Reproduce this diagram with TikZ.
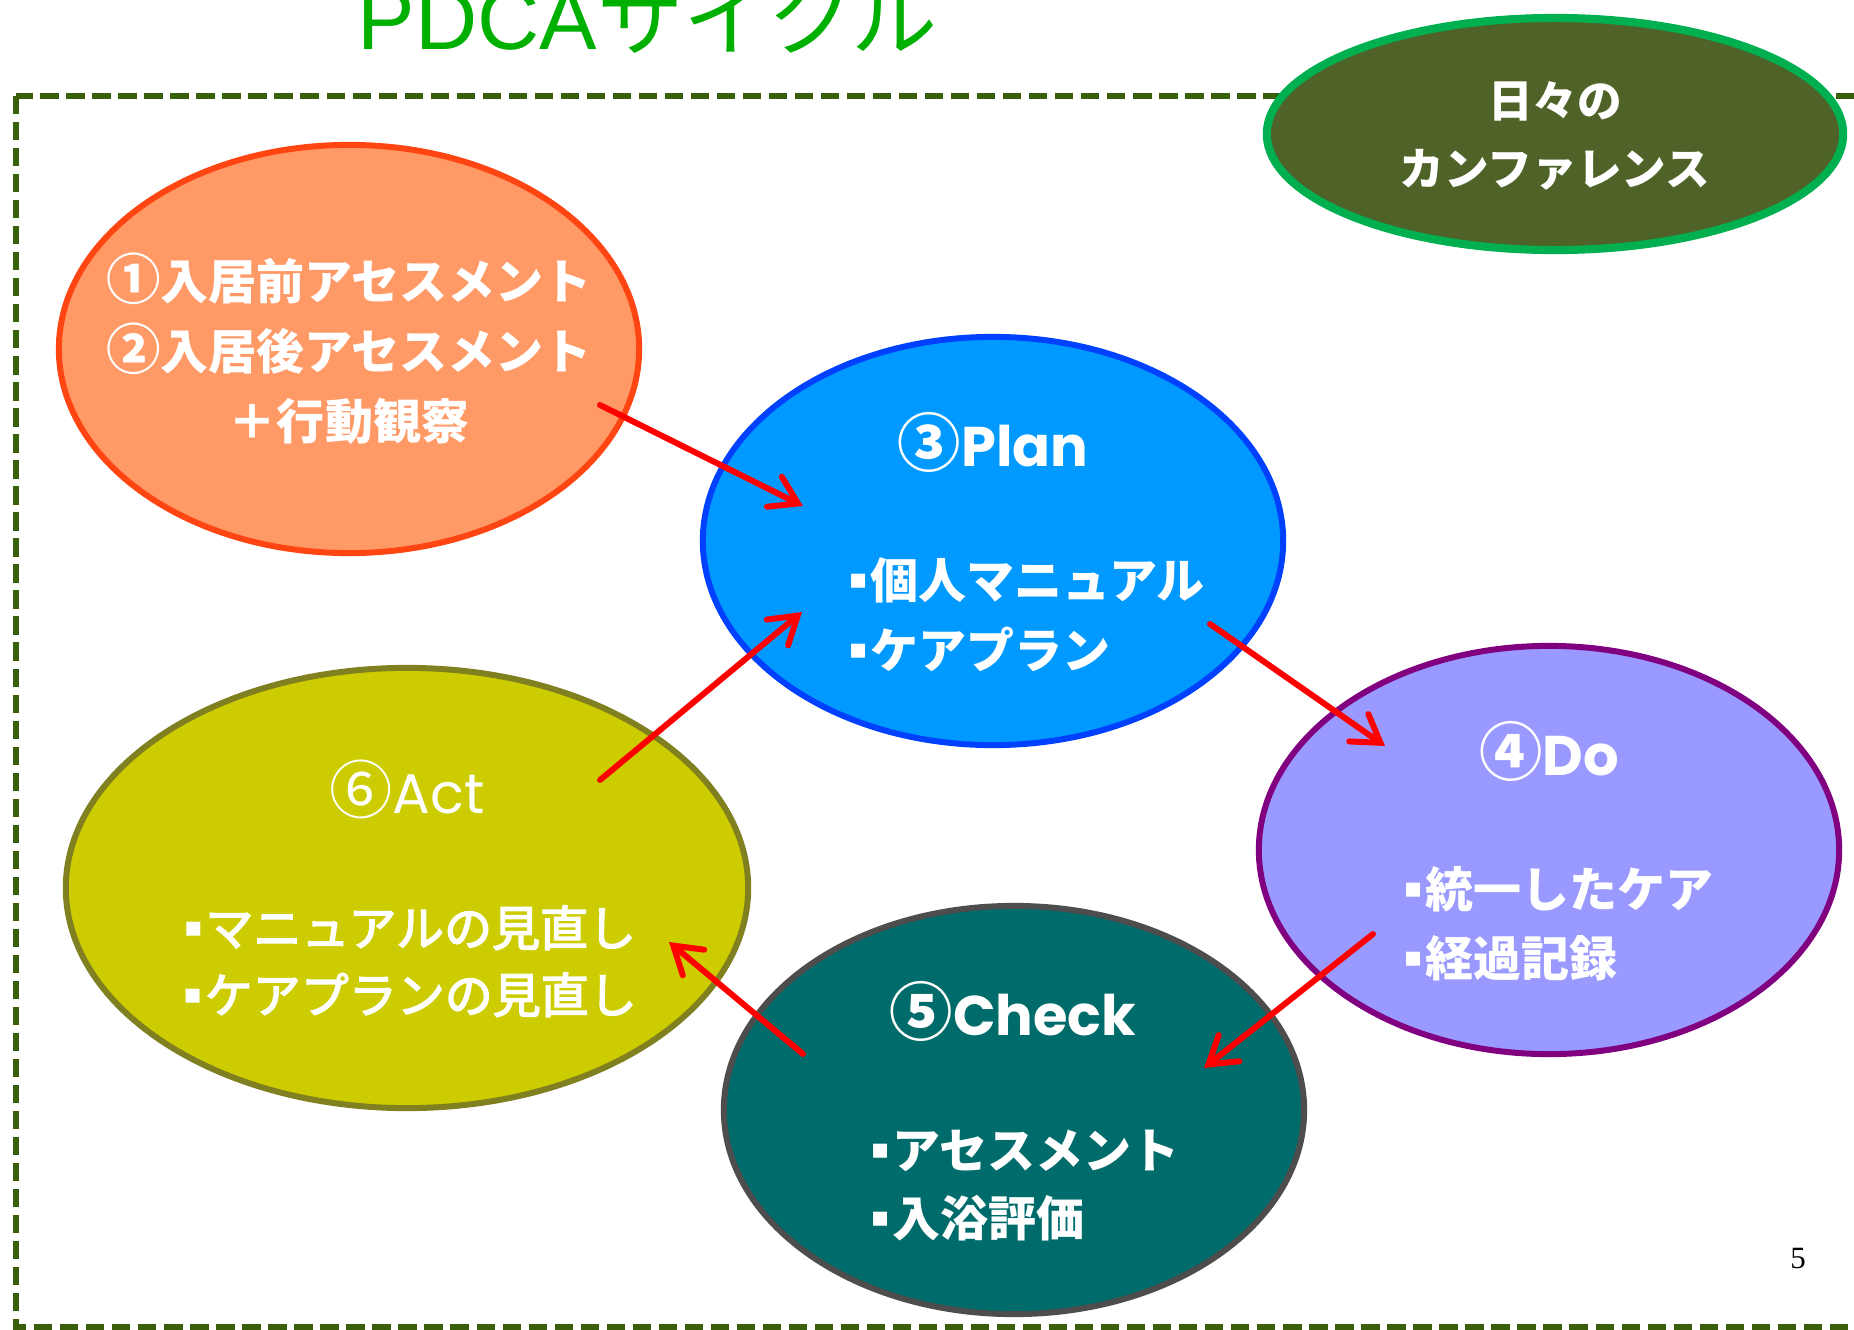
\documentclass[tikz,border=0pt]{standalone}
\usepackage{fontspec}
\usetikzlibrary{shapes.geometric,arrows.meta}
\setmainfont{Liberation Sans}
\newfontfamily\jp{Noto Sans CJK JP}
\newfontfamily\jpmed{Noto Sans CJK JP}[FakeBold=3]
\newfontfamily\pop{Poppins}
\newfontfamily\lat{Liberation Sans}
\newfontfamily\serifn{Liberation Serif}
\newfontfamily\dejavu{DejaVu Sans}
\definecolor{orFill}{HTML}{FF9966}
\definecolor{orLine}{HTML}{FF4512}
\definecolor{plFill}{HTML}{0099FF}
\definecolor{plLine}{HTML}{0040FF}
\definecolor{doFill}{HTML}{9999FF}
\definecolor{doLine}{HTML}{800080}
\definecolor{ckFill}{HTML}{006B6B}
\definecolor{ckLine}{HTML}{4D4D4D}
\definecolor{acFill}{HTML}{CCCC00}
\definecolor{acLine}{HTML}{808020}
\definecolor{dgFill}{HTML}{4F6228}
\definecolor{dgLine}{HTML}{00B050}
\definecolor{frameCol}{HTML}{3A5F0B}
\definecolor{titleCol}{HTML}{00B000}
\newcommand\bul{\makebox[0.45em][l]{\raisebox{2.7pt}{\dejavu\fontsize{8pt}{8pt}\selectfont ▪}}}
\newcommand\bignum[2]{{\fontsize{#1}{#1}\selectfont #2}}
\begin{document}
\begin{tikzpicture}[x=0.01cm, y=-0.01cm,
  ell/.style={ellipse, inner sep=0pt, line width=1.7pt, minimum width=5.80cm, minimum height=4.08cm},
  body/.style={anchor=base, inner sep=0pt, text=white, font=\jp\bfseries\fontsize{13.65pt}{16pt}\selectfont},
  bodyl/.style={body, anchor=base west},
  bodyr/.style={anchor=base, inner sep=0pt, text=white, font=\jpmed\fontsize{13.65pt}{16pt}\selectfont},
  head/.style={anchor=base, inner sep=0pt, text=white, font=\fontsize{15.9pt}{18pt}\selectfont},
  conftext/.style={anchor=base, inner sep=0pt, text=white, font=\jp\bfseries\fontsize{12.7pt}{15pt}\selectfont},
  frame/.style={draw=frameCol, line width=1.7pt, dash pattern=on 5.2pt off 2.2pt},
  arr/.style={draw=red, line width=1.7pt, line cap=round, -{Straight Barb[length=7.5pt, width=9.5pt, line cap=round]}}
]
\useasboundingbox (0,0) rectangle (1854,1330);
\clip (0,0) rectangle (1854,1330);
\fill[white] (0,0) rectangle (1854,1330);
\draw[frame] (16,96) rectangle (1890,1327);

% title
\node[anchor=base west, inner sep=0pt, text=titleCol, font=\fontsize{24.5pt}{28pt}\selectfont] (title) at (357,49) {{\lat PDCA}{\jp サイクル}};

% ellipses
\node[ell, fill=orFill, draw=orLine] (assess) at (349,349) {};
\node[ell, fill=plFill, draw=plLine] (plan) at (993,541) {};
\node[ell, fill=doFill, draw=doLine] (do) at (1549,850) {};
\node[ell, fill=ckFill, draw=ckLine] (check) at (1014,1110) {};
\node[ell, fill=acFill, draw=acLine, minimum width=6.82cm, minimum height=4.40cm] (act) at (407,888) {};
\node[ell, fill=dgFill, draw=dgLine, line width=2.3pt, minimum width=5.76cm, minimum height=2.32cm] (conf) at (1555,134) {};

% conference text
\node[conftext] (conf1) at (1555,117) {日々の};
\node[conftext] (conf2) at (1555,185) {カンファレンス};

% assessment text
\node[body] (as1) at (349,299) {\bignum{15.5pt}{①}入居前アセスメント};
\node[body] (as2) at (349,369) {\bignum{15.5pt}{②}入居後アセスメント};
\node[body] (as3) at (349,439) {＋行動観察};

% plan
\node[head] (planh) at (993,466) {{\jp\bfseries\bignum{18pt}{③}}{\pop\bfseries Plan}};
\node[bodyl] (plan1) at (848,598) {\bul 個人マニュアル};
\node[bodyl] (plan2) at (848,668) {\bul ケアプラン};

% do
\node[head] (doh) at (1549,775) {{\jp\bfseries\bignum{18pt}{④}}{\pop\bfseries Do}};
\node[bodyl] (do1) at (1403,907) {\bul 統一したケア};
\node[bodyl] (do2) at (1403,976) {\bul 経過記録};

% check
\node[head] (ckh) at (1013,1035) {{\jp\bfseries\bignum{18pt}{⑤}}{\pop\bfseries Check}};
\node[bodyl] (ck1) at (870,1168) {\bul アセスメント};
\node[bodyl] (ck2) at (870,1236) {\bul 入浴評価};

% act
\node[head] (ach) at (407,813) {{\jp\bignum{18pt}{⑥}}{\pop Act}};
\node[bodyr] (ac1) at (410,946) {\bul マニュアルの見直し};
\node[bodyr] (ac2) at (410,1013) {\bul ケアプランの見直し};

% page number
\node[anchor=base, inner sep=0pt, font=\serifn\fontsize{8.8pt}{10pt}\selectfont] (pg) at (1798,1268) {5};

% arrows
\coordinate (a1s) at (600,405);  \coordinate (a1e) at (803,506);
\coordinate (a2s) at (1210,624); \coordinate (a2e) at (1385,746);
\coordinate (a3s) at (1373,934); \coordinate (a3e) at (1204,1068);
\coordinate (a4s) at (803,1054); \coordinate (a4e) at (669,942);
\coordinate (a5s) at (600,780);  \coordinate (a5e) at (802,612);
\draw[arr] (a1s) -- (a1e);
\draw[arr] (a2s) -- (a2e);
\draw[arr] (a3s) -- (a3e);
\draw[arr] (a4s) -- (a4e);
\draw[arr] (a5s) -- (a5e);
\end{tikzpicture}
\end{document}
